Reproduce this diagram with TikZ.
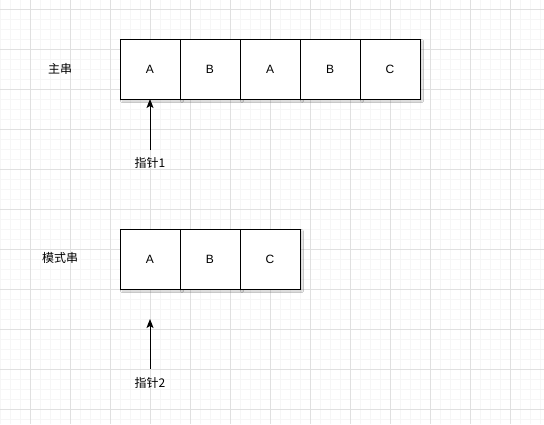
\documentclass[tikz,border=0pt]{standalone}
\usepackage{fontspec}
\setmainfont{Liberation Sans}
\newfontfamily\cjk{Noto Sans CJK SC}
\usetikzlibrary{arrows.meta,shadows.blur}
\definecolor{minorg}{HTML}{F6F6F6}
\definecolor{majorg}{HTML}{E0E0E0}
\tikzset{
  cell/.style={draw=black, line width=1pt, fill=white, minimum width=60pt, minimum height=60pt, inner sep=0pt, outer sep=0pt,
    font=\fontsize{12}{14}\selectfont,
    blur shadow={shadow xshift=2pt, shadow yshift=-2pt, shadow blur steps=4, shadow opacity=20, shadow blur radius=1.5pt}},
  lbl/.style={font=\fontsize{12}{14}\selectfont\cjk, inner sep=0pt},
  ptr/.style={draw=black, line width=1pt, -{Stealth[length=9pt,width=7pt,inset=2pt]}},
  minorline/.style={draw=minorg, line width=0.6pt},
  majorline/.style={draw=majorg, line width=0.8pt}
}
\begin{document}
\begin{tikzpicture}[x=1pt,y=-1pt]
\useasboundingbox (0,0) rectangle (544,424);
\fill[white] (0,0) rectangle (544,424);
% grid
\foreach \x in {0,10,...,540} \draw[minorline] (\x,0) -- (\x,424);
\foreach \y in {9,19,...,419} \draw[minorline] (0,\y) -- (544,\y);
\foreach \x in {30,70,...,510} \draw[majorline] (\x,0) -- (\x,424);
\foreach \y in {9,49,...,409} \draw[majorline] (0,\y) -- (544,\y);
% main string
\node[cell] (m1) at (150,69) {A};
\node[cell] (m2) at (210,69) {B};
\node[cell] (m3) at (270,69) {A};
\node[cell] (m4) at (330,69) {B};
\node[cell] (m5) at (390,69) {C};
% pattern string
\node[cell] (q1) at (150,259) {A};
\node[cell] (q2) at (210,259) {B};
\node[cell] (q3) at (270,259) {C};
% labels
\node[lbl] (lm) at (60,69) {主串};
\node[lbl] (lq) at (60,258) {模式串};
\node[lbl] (p1) at (150,163) {指针1};
\node[lbl] (p2) at (150,383) {指针2};
% pointers
\coordinate (t1) at (150,150);
\coordinate (t2) at (150,369);
\coordinate (h2) at (150,319);
\draw[ptr] (t1) -- (m1.south);
\draw[ptr] (t2) -- (h2);
\end{tikzpicture}
\end{document}
